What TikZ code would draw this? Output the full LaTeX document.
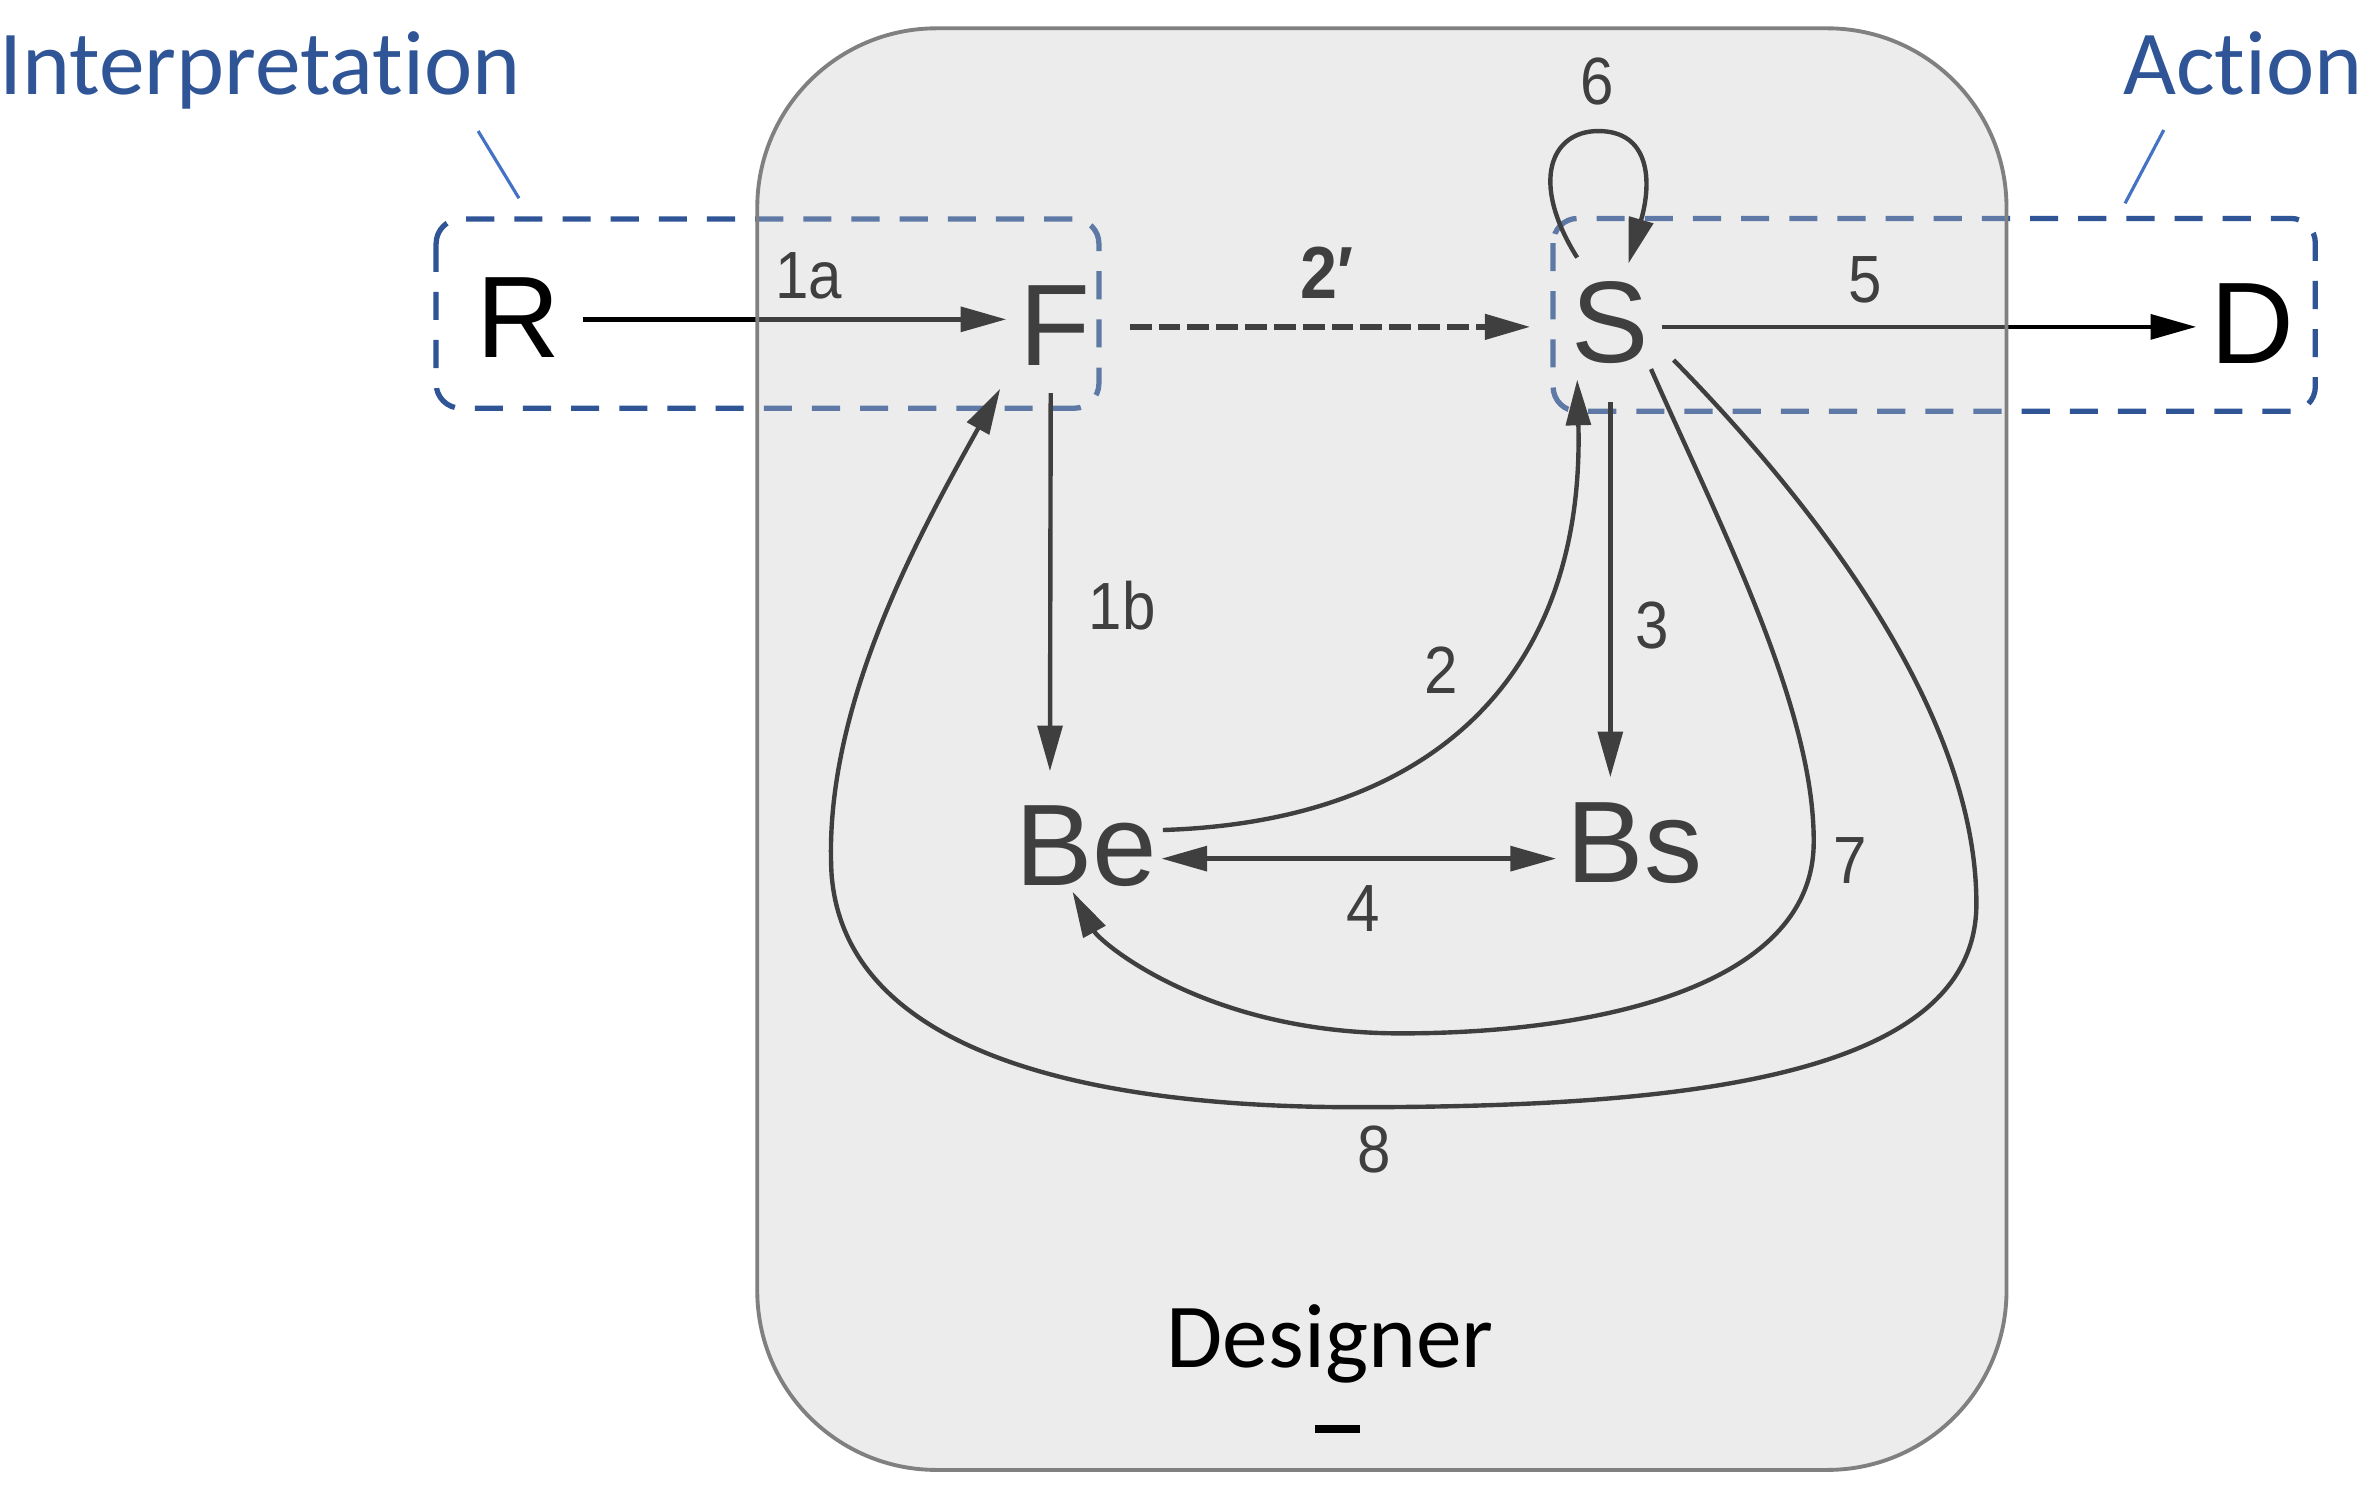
\documentclass[tikz,border=0pt]{standalone}
\usepackage{fontspec}
\setmainfont{Liberation Sans}
\newfontfamily\calfont[Ligatures=NoCommon]{Carlito}
\newfontfamily\labfont[FakeStretch=0.9]{Liberation Sans}
\usetikzlibrary{arrows.meta,calc}
\definecolor{blueD}{RGB}{47,85,151}
\definecolor{blueL}{RGB}{68,114,196}
\definecolor{ovgray}{RGB}{199,199,199}
\definecolor{boxborder}{RGB}{128,128,128}
\tikzset{
  letter/.style={font=\fontsize{33}{36}\selectfont, inner sep=0pt},
  lbl/.style={font=\labfont\fontsize{19}{22}\selectfont, inner sep=0pt},
  titletext/.style={font=\calfont\fontsize{26}{30}\selectfont, inner sep=0pt},
  arr/.style={line width=1.25pt, -{Triangle[length=13pt,width=7pt]}},
  dasharr/.style={line width=1.7pt, dash pattern=on 6.2pt off 2pt, -{Triangle[length=13pt,width=7pt]}},
  dashrect/.style={draw=blueD, line width=1.5pt, dash pattern=on 8pt off 5.7pt, rounded corners=7pt},
  leader/.style={draw=blueL, line width=0.9pt},
}
\begin{document}
\begin{tikzpicture}[x=0.015064cm, y=-0.015064cm]
\useasboundingbox (0,0) rectangle (1568,989.1);
\fill[white] (0,0) rectangle (1568,989.1);

% outer labels
\node[titletext, text=blueD, anchor=base west] (interp) at (-1,63) {Interpretation};
\node[titletext, text=blueD, anchor=base west] (action) at (1409,63) {Action};
\coordinate (li1) at (317.4,87);
\coordinate (li2) at (344.5,131.6);
\coordinate (la1) at (1436.4,86.3);
\coordinate (la2) at (1410.7,135);
\draw[leader] (li1) -- (li2);
\draw[leader] (la1) -- (la2);

% dashed groups
\draw[dashrect] (289.5,145.4) rectangle (729.5,271);
\draw[dashrect] (1031,145) rectangle (1537,273);

% nodes
\node[letter] (R) at (344,211) {R};
\node[letter] (F) at (700,216) {F};
\node[letter] (S) at (1069,214) {S};
\node[letter] (D) at (1495,215) {D};
\node[letter] (Be) at (721,562) {Be};
\node[letter] (Bs) at (1085,560) {Bs};

% straight connectors
\draw[arr] ($(R)+(43,1)$) -- ($(F)+(-32,-4)$);
\draw[dasharr] ($(F)+(50,1)$) -- ($(S)+(-53,3)$);
\draw[arr] ($(S)+(34,3)$) -- ($(D)+(-37,2)$);
\draw[arr] ($(F)+(-2.5,45)$) -- ($(Be)+(-24,-50)$);
\draw[arr] ($(S)+(0,53)$) -- ($(Bs)+(-16,-44)$);
\draw[line width=1.25pt, {Triangle[length=13pt,width=7pt]}-{Triangle[length=13pt,width=7pt]}] ($(Be)+(50,8)$) -- ($(Bs)+(-52,10)$);

% curved connectors
\draw[arr] ($(Be)+(51,-11)$) .. controls (960,545) and (1052,440) .. ($(S)+(-22,38)$);
\draw[arr] ($(S)+(-22,-43)$) .. controls (1015,120) and (1030,87) .. (1061,87)
   .. controls (1095,87) and (1097,120) .. ($(S)+(12,-39)$);
\draw[arr] ($(S)+(27,31)$) .. controls (1140,345) and (1205,470) .. (1204,560)
   .. controls (1203,655) and (1060,686) .. (930,686)
   .. controls (800,686) and (730,625) .. ($(Be)+(-9,30)$);
\draw[arr] ($(S)+(42,25)$) .. controls (1200,330) and (1312,470) .. (1312,600)
   .. controls (1312,715) and (1120,735) .. (900,735)
   .. controls (700,735) and (560,690) .. (552,580)
   .. controls (546,470) and (610,355) .. ($(F)+(-36,42)$);

% labels
\node[lbl] (l1a) at (537,183) {1a};
\node[font=\labfont\bfseries\fontsize{21}{24}\selectfont, inner sep=0pt, anchor=base] (l2p) at (881,198) {2′};
\node[lbl] (l5) at (1238,186) {5};
\node[lbl] (l6) at (1060,54) {6};
\node[lbl] (l1b) at (745,402) {1b};
\node[lbl] (l3) at (1097,415) {3};
\node[lbl] (l2) at (957,445) {2};
\node[lbl] (l4) at (905,603) {4};
\node[lbl] (l7) at (1228,571) {7};
\node[lbl] (l8) at (912,763) {8};

% designer box overlay
\fill[ovgray, fill opacity=0.32, rounded corners=51pt] (502.7,18.8) rectangle (1332,975.8);
\draw[boxborder, line width=1.1pt, rounded corners=51pt] (502.7,18.8) rectangle (1332,975.8);
\node[titletext, anchor=base] (des) at (883,908) {Designer};
\fill[black] (873,946) rectangle (903,951);
\end{tikzpicture}
\end{document}
